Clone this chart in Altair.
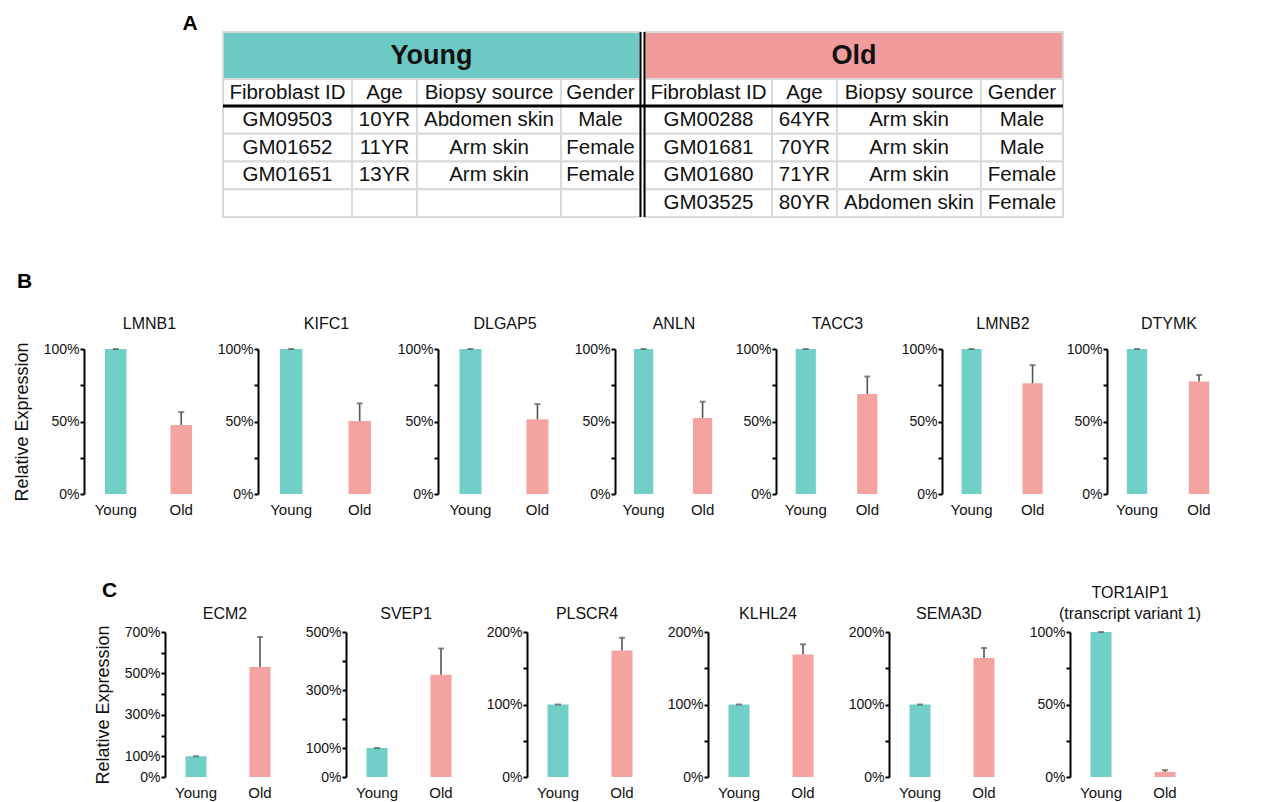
import altair as alt
import pandas as pd

FONT = "Liberation Sans"
TEAL = "#71CFC8"
PINK = "#F4A3A0"
TEAL_HDR = "#6CC9C3"
PINK_HDR = "#F09C9C"
GRID = "#D9D9D9"
INK = "#111111"
ERR = "#555555"

# ---------------- Panel A data ----------------
headers = ["Fibroblast ID", "Age", "Biopsy source", "Gender"]
young_ids = ["GM09503", "GM01652", "GM01651"]
young_ages = ["10YR", "11YR", "13YR"]
young_src = ["Abdomen skin", "Arm skin", "Arm skin"]
young_gender = ["Male", "Female", "Female"]
old_ids = ["GM00288", "GM01681", "GM01680", "GM03525"]
old_ages = ["64YR", "70YR", "71YR", "80YR"]
old_src = ["Arm skin", "Arm skin", "Arm skin", "Abdomen skin"]
old_gender = ["Male", "Male", "Female", "Female"]

# ---------------- Panel B data ----------------
groups = ["Young", "Old"]
genes_b = ["LMNB1", "KIFC1", "DLGAP5", "ANLN", "TACC3", "LMNB2", "DTYMK"]
young_b = [1.0, 1.0, 1.0, 1.0, 1.0, 1.0, 1.0]
young_b_sd = [0.0, 0.0, 0.0, 0.0, 0.0, 0.0, 0.0]
old_b = [0.476, 0.503, 0.515, 0.525, 0.69, 0.763, 0.776]
old_b_sd = [0.089, 0.122, 0.105, 0.112, 0.12, 0.126, 0.045]

# ---------------- Panel C data ----------------
genes_c = ["ECM2", "SVEP1", "PLSCR4", "KLHL24", "SEMA3D", "TOR1AIP1"]
subtitle_c = ["", "", "", "", "", "(transcript variant 1)"]
young_c = [1.0, 1.0, 1.0, 1.0, 1.0, 1.0]
young_c_sd = [0.0, 0.0, 0.0, 0.0, 0.0, 0.0]
old_c = [5.31, 3.53, 1.745, 1.69, 1.64, 0.035]
old_c_sd = [1.45, 0.90, 0.175, 0.14, 0.14, 0.012]
ymax_c = [7, 5, 2, 2, 2, 1]
ticks_c = [[0, 1, 2, 3, 4, 5, 6, 7], [0, 1, 2, 3, 4, 5], [0, 0.5, 1, 1.5, 2],
           [0, 0.5, 1, 1.5, 2], [0, 0.5, 1, 1.5, 2], [0, 0.25, 0.5, 0.75, 1]]
labels_c = [[0, 1, 3, 5, 7], [0, 1, 3, 5], [0, 1, 2], [0, 1, 2], [0, 1, 2], [0, 0.5, 1]]
ticks_b = [0, 0.25, 0.5, 0.75, 1]
labels_b = [0, 0.5, 1]

# ---------------- layout (pixels) ----------------
TABLE_W, TABLE_H = 979, 204
TABLE_LEFT = 139
young_widths = [129, 65, 144, 79]
gap_w = 5
old_widths = [127, 65, 144, 82]
row_edges = [19, 66, 93, 120.75, 148.5, 176.25, 204]
widths_b = [131, 137, 134, 118, 123, 122, 124]
WC = 120

def cum(start, widths):
    out = [start]
    for w in widths:
        out.append(out[-1] + w)
    return out

yx = cum(TABLE_LEFT, young_widths)
ox = cum(yx[-1] + gap_w, old_widths)

rects, texts, rules = [], [], []
rects.append(dict(x0=yx[0], x1=yx[-1], y0=row_edges[0], y1=row_edges[1], fill=TEAL_HDR, stroke=GRID))
rects.append(dict(x0=ox[0], x1=ox[-1], y0=row_edges[0], y1=row_edges[1], fill=PINK_HDR, stroke=GRID))
young_cols = [young_ids, young_ages, young_src, young_gender]
old_cols = [old_ids, old_ages, old_src, old_gender]
for edges, cols in ((yx, young_cols), (ox, old_cols)):
    for c in range(4):
        rects.append(dict(x0=edges[c], x1=edges[c + 1], y0=row_edges[1], y1=row_edges[2], fill="white", stroke=GRID))
        texts.append(dict(x=(edges[c] + edges[c + 1]) / 2, y=(row_edges[1] + row_edges[2]) / 2, text=headers[c]))
        for r in range(4):
            rects.append(dict(x0=edges[c], x1=edges[c + 1], y0=row_edges[2 + r], y1=row_edges[3 + r], fill="white", stroke=GRID))
            if r < len(cols[c]):
                texts.append(dict(x=(edges[c] + edges[c + 1]) / 2, y=(row_edges[2 + r] + row_edges[3 + r]) / 2, text=cols[c][r]))
band_texts = [dict(x=(yx[0] + yx[-1]) / 2, y=(row_edges[0] + row_edges[1]) / 2, text="Young"),
              dict(x=(ox[0] + ox[-1]) / 2, y=(row_edges[0] + row_edges[1]) / 2, text="Old")]
rules.append(dict(x0=yx[0], x1=ox[-1], y0=row_edges[2], y1=row_edges[2], w=3))
rules.append(dict(x0=yx[-1] + 0.5, x1=yx[-1] + 0.5, y0=row_edges[0], y1=row_edges[-1], w=2))
rules.append(dict(x0=ox[0] - 0.5, x1=ox[0] - 0.5, y0=row_edges[0], y1=row_edges[-1], w=2))
label_a = [dict(x=106, y=17, text="A")]

xs = alt.Scale(domain=[0, TABLE_W], nice=False, zero=False)
ys = alt.Scale(domain=[0, TABLE_H], nice=False, zero=False, reverse=True)

def XQ(f):
    return alt.X(f, type="quantitative", scale=xs, axis=None)

def YQ(f):
    return alt.Y(f, type="quantitative", scale=ys, axis=None)

t_rect = alt.Chart(pd.DataFrame(rects)).mark_rect(strokeWidth=2).encode(
    x=XQ("x0"), x2="x1", y=YQ("y0"), y2="y1",
    fill=alt.Fill("fill:N", scale=None), stroke=alt.Stroke("stroke:N", scale=None))
t_rule = alt.Chart(pd.DataFrame(rules)).mark_rule(color="black").encode(
    x=XQ("x0"), x2="x1", y=YQ("y0"), y2="y1", strokeWidth=alt.StrokeWidth("w:Q", scale=None))
t_text = alt.Chart(pd.DataFrame(texts)).mark_text(font=FONT, fontSize=20.5, color=INK, baseline="middle", align="center").encode(
    x=XQ("x"), y=YQ("y"), text="text:N")
t_band = alt.Chart(pd.DataFrame(band_texts)).mark_text(font=FONT, fontSize=27, fontWeight="bold", color=INK, baseline="middle", align="center").encode(
    x=XQ("x"), y=YQ("y"), text="text:N")
t_a = alt.Chart(pd.DataFrame(label_a)).mark_text(font=FONT, fontSize=21, fontWeight="bold", color="black", baseline="alphabetic", align="center").encode(
    x=XQ("x"), y=YQ("y"), text="text:N")
table = alt.layer(t_rect, t_rule, t_text, t_band, t_a).properties(width=TABLE_W, height=TABLE_H)

# ---------------- bar panels ----------------
PLOT_H = 145

def panel(title, young, young_sd, old, old_sd, ymax, tvals, lvals, width, xscale, first, title_offset):
    df = pd.DataFrame({"group": groups, "value": [young, old], "sd": [young_sd, old_sd]})
    df["top"] = df["value"] + df["sd"]
    xaxis = alt.Axis(title=None, labelAngle=0, domain=False, ticks=False, labelFont=FONT,
                     labelFontSize=15, labelColor=INK, labelPadding=8)
    ax = dict(values=tvals, format="%",
              labelExpr="indexof(%s, datum.value) < 0 ? '' : datum.label" % str(lvals),
              grid=False, domainColor="black", domainWidth=2, tickColor="black", tickWidth=2,
              tickSize=4, labelPadding=1, labelFont=FONT, labelFontSize=14, labelColor=INK,
              minExtent=41, maxExtent=41)
    if first:
        ax.update(title="Relative Expression", titleFont=FONT, titleFontSize=18, titleFontWeight="normal",
                  titleColor=INK, titlePadding=12)
    else:
        ax.update(title=None)
    yaxis = alt.Axis(**ax)
    yscale = alt.Scale(domain=[0, ymax], nice=False, zero=True)
    xenc = alt.X("group:N", sort=groups, scale=xscale, axis=xaxis)
    base = alt.Chart(df)
    bars = base.mark_bar().encode(
        x=xenc, y=alt.Y("value:Q", scale=yscale, axis=yaxis),
        color=alt.Color("group:N", scale=alt.Scale(domain=groups, range=[TEAL, PINK]), legend=None))
    err = base.mark_rule(color=ERR, strokeWidth=1.6).encode(
        x=xenc, y=alt.Y("value:Q", scale=yscale, axis=yaxis), y2="top:Q")
    cap = base.mark_tick(color=ERR, thickness=2, size=6).encode(
        x=xenc, y=alt.Y("top:Q", scale=yscale, axis=yaxis))
    t = [s for s in title if s]
    tp = alt.TitleParams(text=t if len(t) > 1 else t[0], font=FONT, fontSize=16, fontWeight="normal",
                         color=INK, offset=title_offset, lineHeight=21)
    return alt.layer(bars, err, cap).properties(width=width, height=PLOT_H, title=tp)

xscale_b = alt.Scale(paddingInner=0.672, paddingOuter=0.336, align=0.477)
xscale_c = alt.Scale(paddingInner=0.672, paddingOuter=0.2735, align=0.586)

b_panels = [panel([genes_b[i]], young_b[i], young_b_sd[i], old_b[i], old_b_sd[i], 1, ticks_b, labels_b,
                  widths_b[i], xscale_b, i == 0, 10) for i in range(len(genes_b))]
row_b = alt.hconcat(*b_panels, spacing=2).properties(
    title=alt.TitleParams("B", anchor="start", font=FONT, fontSize=21, fontWeight="bold", color="black",
                          dx=4, offset=24))

c_panels = [panel([genes_c[i], subtitle_c[i]], young_c[i], young_c_sd[i], old_c[i], old_c_sd[i], ymax_c[i],
                  ticks_c[i], labels_c[i], WC, xscale_c, i == 0, 3) for i in range(len(genes_c))]
inner_c = alt.hconcat(*c_panels, spacing=20)
spacer = alt.Chart(pd.DataFrame({"v": [0]})).mark_rule(opacity=0).encode(
    x=alt.value(0), y=alt.value(0), y2=alt.value(1)).properties(width=1, height=PLOT_H)
row_c = alt.hconcat(spacer, inner_c, spacing=9).properties(
    title=alt.TitleParams("C", anchor="start", font=FONT, fontSize=21, fontWeight="bold", color="black",
                          dx=18, offset=-16))

lower = alt.vconcat(row_b, row_c, spacing=63)
chart = alt.vconcat(table, lower, spacing=52).configure(background="white").configure_view(stroke=None, strokeWidth=0)

chart.save("out.html", embed_options={"renderer": "svg", "actions": False})
